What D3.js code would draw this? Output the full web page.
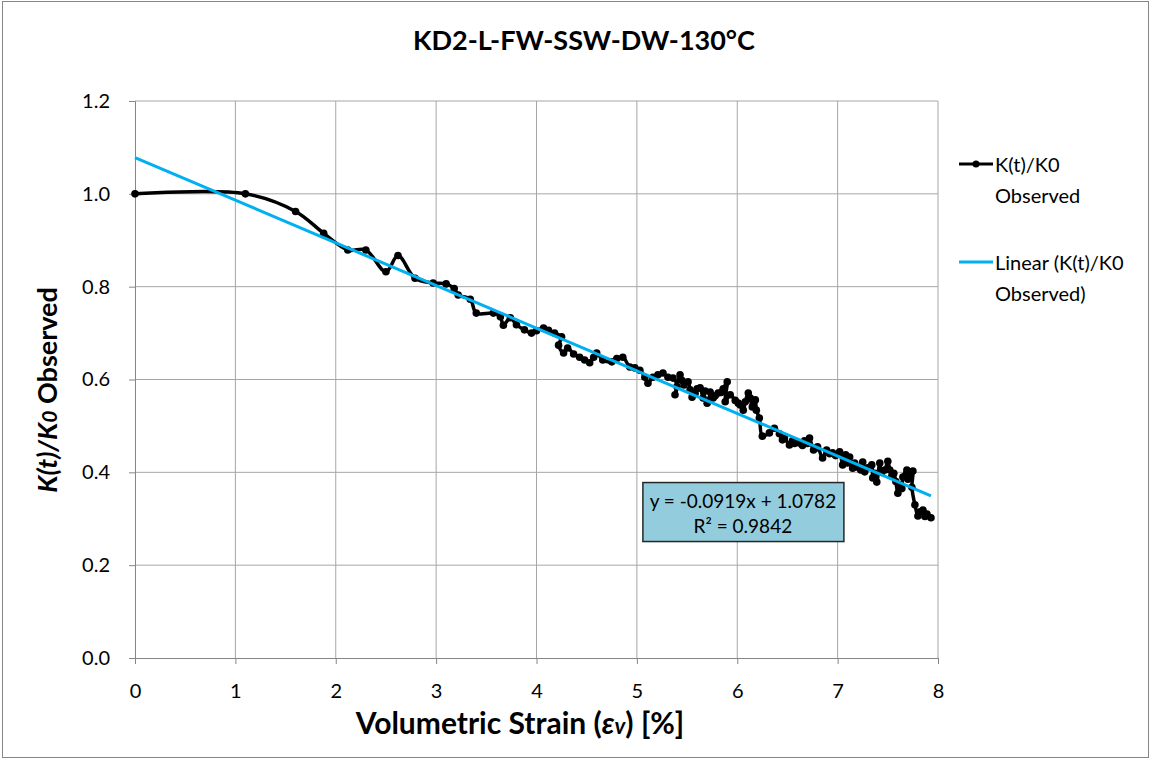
<!DOCTYPE html>
<html>
<head>
<meta charset="utf-8">
<script src="https://cdn.jsdelivr.net/npm/d3@7"></script>
<style>
  body { margin: 0; background: #fff; }
  svg { font-family: Lato, "Open Sans", sans-serif; }
</style>
</head>
<body>
<svg id="chart"></svg>
<script>
// Chart size
const width = 1156;
const height = 760;

const strain = [
  0.00, 1.10, 1.60, 1.88, 2.12, 2.30, 2.50, 2.62, 2.79, 2.97,
  3.10, 3.18, 3.22, 3.34, 3.40, 3.57, 3.64, 3.67, 3.74, 3.80,
  3.88, 3.95, 4.00, 4.07, 4.12, 4.18, 4.25, 4.22, 4.27, 4.31,
  4.37, 4.43, 4.48, 4.53, 4.57, 4.60, 4.66, 4.75, 4.80, 4.86,
  4.93, 4.98, 5.03, 5.08, 5.11, 5.16, 5.21, 5.26, 5.31, 5.36,
  5.40, 5.38, 5.43, 5.45, 5.47, 5.51, 5.53, 5.55, 5.58, 5.60,
  5.63, 5.66, 5.68, 5.73, 5.70, 5.76, 5.78, 5.81, 5.84, 5.86,
  5.90, 5.88, 5.93, 5.98, 6.01, 6.03, 6.06, 6.08, 6.11, 6.13,
  6.15, 6.16, 6.18, 6.19, 6.22, 6.25, 6.32, 6.37, 6.42, 6.45,
  6.47, 6.52, 6.55, 6.57, 6.62, 6.65, 6.67, 6.70, 6.72, 6.76,
  6.78, 6.80, 6.85, 6.89, 6.92, 6.95, 6.98, 7.02, 7.05, 7.08,
  7.10, 7.12, 7.15, 7.17, 7.20, 7.23, 7.25, 7.27, 7.30, 7.34,
  7.35, 7.37, 7.39, 7.42, 7.44, 7.47, 7.50, 7.52, 7.54, 7.56,
  7.58, 7.60, 7.62, 7.64, 7.65, 7.69, 7.70, 7.72, 7.75, 7.74,
  7.77, 7.80, 7.82, 7.85, 7.87, 7.89, 7.93
];
const kRatio = [
  1.000, 1.000, 0.962, 0.915, 0.879, 0.879, 0.832, 0.867, 0.818, 0.808,
  0.806, 0.796, 0.782, 0.773, 0.743, 0.743, 0.735, 0.717, 0.733, 0.718,
  0.707, 0.700, 0.705, 0.711, 0.706, 0.700, 0.692, 0.674, 0.657, 0.668,
  0.655, 0.648, 0.642, 0.636, 0.648, 0.657, 0.642, 0.638, 0.645, 0.648,
  0.627, 0.625, 0.620, 0.605, 0.592, 0.605, 0.610, 0.614, 0.605, 0.603,
  0.585, 0.567, 0.610, 0.598, 0.588, 0.595, 0.578, 0.562, 0.570, 0.580,
  0.582, 0.560, 0.575, 0.573, 0.549, 0.560, 0.565, 0.571, 0.572, 0.580,
  0.595, 0.552, 0.567, 0.555, 0.549, 0.545, 0.534, 0.552, 0.571, 0.560,
  0.541, 0.552, 0.556, 0.534, 0.517, 0.478, 0.485, 0.495, 0.483, 0.470,
  0.474, 0.459, 0.468, 0.462, 0.463, 0.458, 0.468, 0.462, 0.474, 0.448,
  0.452, 0.455, 0.431, 0.448, 0.440, 0.442, 0.436, 0.444, 0.416, 0.438,
  0.420, 0.433, 0.409, 0.420, 0.411, 0.405, 0.422, 0.401, 0.410, 0.416,
  0.388, 0.398, 0.379, 0.420, 0.400, 0.405, 0.424, 0.405, 0.392, 0.398,
  0.380, 0.355, 0.373, 0.365, 0.390, 0.405, 0.385, 0.395, 0.403, 0.368,
  0.330, 0.306, 0.315, 0.319, 0.305, 0.310, 0.302
];

// Linear trend line (from the chart's equation)
const slope = -0.0919;
const intercept = 1.0782;
const rSquared = 0.9842;

// Axis ticks
const xTicks = [0, 1, 2, 3, 4, 5, 6, 7, 8];
const yTicks = [0, 0.2, 0.4, 0.6, 0.8, 1.0, 1.2];

const title = "KD2-L-FW-SSW-DW-130°C";

// Plot area
const plot = { left: 135, right: 938, top: 101, bottom: 658 };

const svg = d3.select("#chart")
    .attr("width", width)
    .attr("height", height);

// Outer chart border
svg.append("rect")
    .attr("x", 2.5).attr("y", 1.5)
    .attr("width", 1146).attr("height", 756)
    .attr("fill", "#fff")
    .attr("stroke", "#868686");

const x = d3.scaleLinear().domain([0, 8]).range([plot.left, plot.right]);
const y = d3.scaleLinear().domain([0, 1.2]).range([plot.bottom, plot.top]);

// Gridlines
svg.append("g")
    .selectAll("line")
    .data(xTicks.slice(1))
    .enter().append("line")
    .attr("x1", d => x(d)).attr("x2", d => x(d))
    .attr("y1", plot.top).attr("y2", plot.bottom)
    .attr("stroke", "#a6a6a6").attr("stroke-width", 1);

svg.append("g")
    .selectAll("line")
    .data(yTicks.slice(1))
    .enter().append("line")
    .attr("x1", plot.left).attr("x2", plot.right)
    .attr("y1", d => y(d)).attr("y2", d => y(d))
    .attr("stroke", "#a6a6a6").attr("stroke-width", 1);

// Axes
const xAxis = svg.append("g")
    .attr("transform", `translate(0,${plot.bottom})`)
    .call(d3.axisBottom(x).tickValues(xTicks).tickSizeOuter(0).tickSize(6).tickPadding(20).tickFormat(d3.format("d")));

const yAxis = svg.append("g")
    .attr("transform", `translate(${plot.left},0)`)
    .call(d3.axisLeft(y).tickValues(yTicks).tickSizeOuter(0).tickSize(6).tickPadding(19).tickFormat(d3.format(".1f")));

[xAxis, yAxis].forEach(g => {
    g.selectAll("path, line").attr("stroke", "#868686");
    g.selectAll("text")
        .attr("fill", "#000")
        .style("font-size", "20px")
        .style("font-family", "Lato, sans-serif");
});

// Observed series, smoothed line with markers
const points = strain.map((s, i) => ({ s: s, k: kRatio[i] }));

const line = d3.line()
    .x(d => x(d.s))
    .y(d => y(d.k))
    .curve(d3.curveCatmullRom.alpha(0.5));

svg.append("path")
    .datum(points)
    .attr("d", line)
    .attr("fill", "none")
    .attr("stroke", "#000")
    .attr("stroke-width", 3.5)
    .attr("stroke-linejoin", "round");

svg.append("g")
    .selectAll("circle")
    .data(points)
    .enter().append("circle")
    .attr("cx", d => x(d.s))
    .attr("cy", d => y(d.k))
    .attr("r", 3.8)
    .attr("fill", "#000");

// Trend line
const trendX = [0, d3.max(strain)];
svg.append("line")
    .attr("x1", x(trendX[0])).attr("y1", y(intercept + slope * trendX[0]))
    .attr("x2", x(trendX[1])).attr("y2", y(intercept + slope * trendX[1]))
    .attr("stroke", "#00b0f0")
    .attr("stroke-width", 3);

// Equation label
const eq = svg.append("g").attr("transform", `translate(${x(5.06)},${y(0.378)})`);
eq.append("rect")
    .attr("width", 201).attr("height", 59)
    .attr("fill", "#93cddd")
    .attr("stroke", "#262626")
    .attr("stroke-width", 1.5);
eq.append("text")
    .attr("x", 100).attr("y", 25)
    .attr("text-anchor", "middle")
    .style("font-size", "19px")
    .text(`y = ${slope}x + ${intercept}`);
eq.append("text")
    .attr("x", 100).attr("y", 50)
    .attr("text-anchor", "middle")
    .style("font-size", "19px")
    .text(`R² = ${rSquared}`);

// Title
svg.append("text")
    .attr("x", 584).attr("y", 50)
    .attr("text-anchor", "middle")
    .style("font-size", "27px")
    .style("font-weight", "bold")
    .text(title);

// X axis title
const xTitle = svg.append("text")
    .attr("x", 520).attr("y", 734)
    .attr("text-anchor", "middle")
    .style("font-size", "30px")
    .style("font-weight", "bold");
xTitle.append("tspan").text("Volumetric Strain (");
xTitle.append("tspan").style("font-style", "italic").text("ε");
xTitle.append("tspan").style("font-style", "italic").style("font-size", "22px").text("v");
xTitle.append("tspan").text(") [%]");

// Y axis title
const yTitle = svg.append("text")
    .attr("transform", `translate(57,390) rotate(-90)`)
    .attr("text-anchor", "middle")
    .style("font-size", "27px")
    .style("font-weight", "bold");
yTitle.append("tspan").style("font-style", "italic").text("K(t)/K");
yTitle.append("tspan").style("font-style", "italic").style("font-size", "21px").text("0");
yTitle.append("tspan").text(" Observed");

// Legend
const legend = svg.append("g").attr("transform", "translate(959,0)");
legend.append("line")
    .attr("x1", 0).attr("x2", 34).attr("y1", 164).attr("y2", 164)
    .attr("stroke", "#000").attr("stroke-width", 3);
legend.append("circle").attr("cx", 17).attr("cy", 164).attr("r", 3.5).attr("fill", "#000");
legend.append("line")
    .attr("x1", 0).attr("x2", 34).attr("y1", 262).attr("y2", 262)
    .attr("stroke", "#00b0f0").attr("stroke-width", 3);

const legendLabels = [
    ["K(t)/K0", "Observed"],
    ["Linear (K(t)/K0", "Observed)"]
];
legend.selectAll("text.legend-item")
    .data(legendLabels)
    .enter().append("text")
    .attr("class", "legend-item")
    .attr("x", 36)
    .attr("y", (d, i) => 172 + i * 98)
    .style("font-size", "20px")
    .each(function (d) {
        d3.select(this).selectAll("tspan")
            .data(d)
            .enter().append("tspan")
            .attr("x", 36)
            .attr("dy", (t, j) => j === 0 ? 0 : 31)
            .text(t => t);
    });
</script>
</body>
</html>
